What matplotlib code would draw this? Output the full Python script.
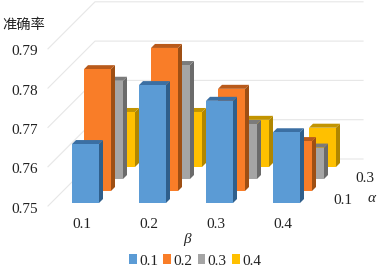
import matplotlib
matplotlib.use('Agg')
import matplotlib.pyplot as plt
from matplotlib.patches import Patch

betas = ['0.1', '0.2', '0.3', '0.4']
alphas = ['0.1', '0.2', '0.3', '0.4']
yticks = [0.75, 0.76, 0.77, 0.78, 0.79]

# accuracy per alpha row, one value per beta
acc_a1 = [0.765, 0.780, 0.776, 0.768]
acc_a2 = [0.781, 0.7864, 0.776, 0.7627]
acc_a3 = [0.775, 0.779, 0.764, 0.758]
acc_a4 = [0.764, 0.764, 0.762, 0.760]
rows = [acc_a1, acc_a2, acc_a3, acc_a4]

front = ['#5B9BD5', '#F97D28', '#A5A5A5', '#FFC000']
side = ['#2F5F8C', '#9E4F14', '#6B6B6B', '#B08600']
top = ['#3B6FA3', '#B95A1B', '#7B7B7B', '#C29400']

W, H = 377, 269
px_x = 67.0       # pixels per beta step
px_y = 39.3 / 0.01  # pixels per unit of accuracy


def dx(p):
    return p / px_x


def dy(p):
    return p / px_y


fig = plt.figure(figsize=(W / 100, H / 100), dpi=100)
ax = fig.add_axes([0, 0, 1, 1])
ax.set_xlim(-85.5 / px_x, (W - 85.5) / px_x)
ax.set_ylim(0.75 - (H - 206) / px_y, 0.75 + 206 / px_y)
ax.axis('off')

# walls
wall = 47
for t in yticks:
    x0 = dx(48 - 85.5)
    x1 = x0 + dx(wall)
    x2 = dx(363 - 85.5)
    ax.plot([x0, x1, x2], [t, t + dy(wall), t + dy(wall)], color='#E6E6E6', lw=0.8, zorder=1)

bar_w = dx(27)
depth = 4
step = 12
base_off = 3
z = 2
for r in range(3, -1, -1):
    off = base_off + step * r
    for i, v in enumerate(rows[r]):
        xl = i - bar_w / 2 + dx(step * r)
        xr = xl + bar_w
        y0 = 0.75 + dy(off)
        y1 = v + dy(off)
        ax.fill([xr, xr + dx(depth), xr + dx(depth), xr],
                [y0, y0 + dy(depth), y1 + dy(depth), y1],
                color=side[r], lw=0, zorder=z)
        ax.fill([xl, xl + dx(depth), xr + dx(depth), xr],
                [y1, y1 + dy(depth), y1 + dy(depth), y1],
                color=top[r], lw=0, zorder=z)
        ax.fill([xl, xr, xr, xl], [y0, y0, y1, y1], facecolor=front[r],
                edgecolor='none', lw=0, zorder=z + 0.5)
        z += 1

plt.rcParams['font.family'] = ['Liberation Serif', 'DejaVu Serif']
fs = 11

for t in yticks:
    ax.text(dx(38 - 85.5), t + dy(-3), '%.2f' % t, ha='right', va='center', fontsize=fs,
            color='#222222', family='Liberation Serif')
for i, b in enumerate(betas):
    ax.text(i - dx(4), 0.75 - dy(18), b, ha='center', va='center', fontsize=fs,
            color='#222222', family='Liberation Serif')

fig.text(24 / W, 1 - 25 / H, '准确率', ha='center', va='center', fontsize=10.3,
         color='#222222', family='Noto Sans CJK SC')
fig.text(187 / W, 1 - 239 / H, 'β', ha='center', va='center', fontsize=fs,
         style='italic', color='#222222', family='Liberation Serif')
fig.text(372 / W, 1 - 198 / H, 'α', ha='center', va='center', fontsize=fs,
         style='italic', color='#222222', family='Liberation Serif')
fig.text(343 / W, 1 - 201 / H, alphas[0], ha='center', va='center', fontsize=fs,
         color='#222222', family='Liberation Serif')
fig.text(365 / W, 1 - 178 / H, alphas[2], ha='center', va='center', fontsize=fs,
         color='#222222', family='Liberation Serif')

handles = [Patch(facecolor=front[i], edgecolor='none', label=alphas[i]) for i in range(4)]
fig.legend(handles=handles, ncol=4, frameon=False, loc='center',
           bbox_to_anchor=(195 / W, 1 - 261 / H), fontsize=fs,
           handlelength=0.5, handleheight=0.6, handletextpad=0.15,
           columnspacing=0.35, borderpad=0, labelcolor='#222222')

fig.savefig('out.png', dpi=100)
